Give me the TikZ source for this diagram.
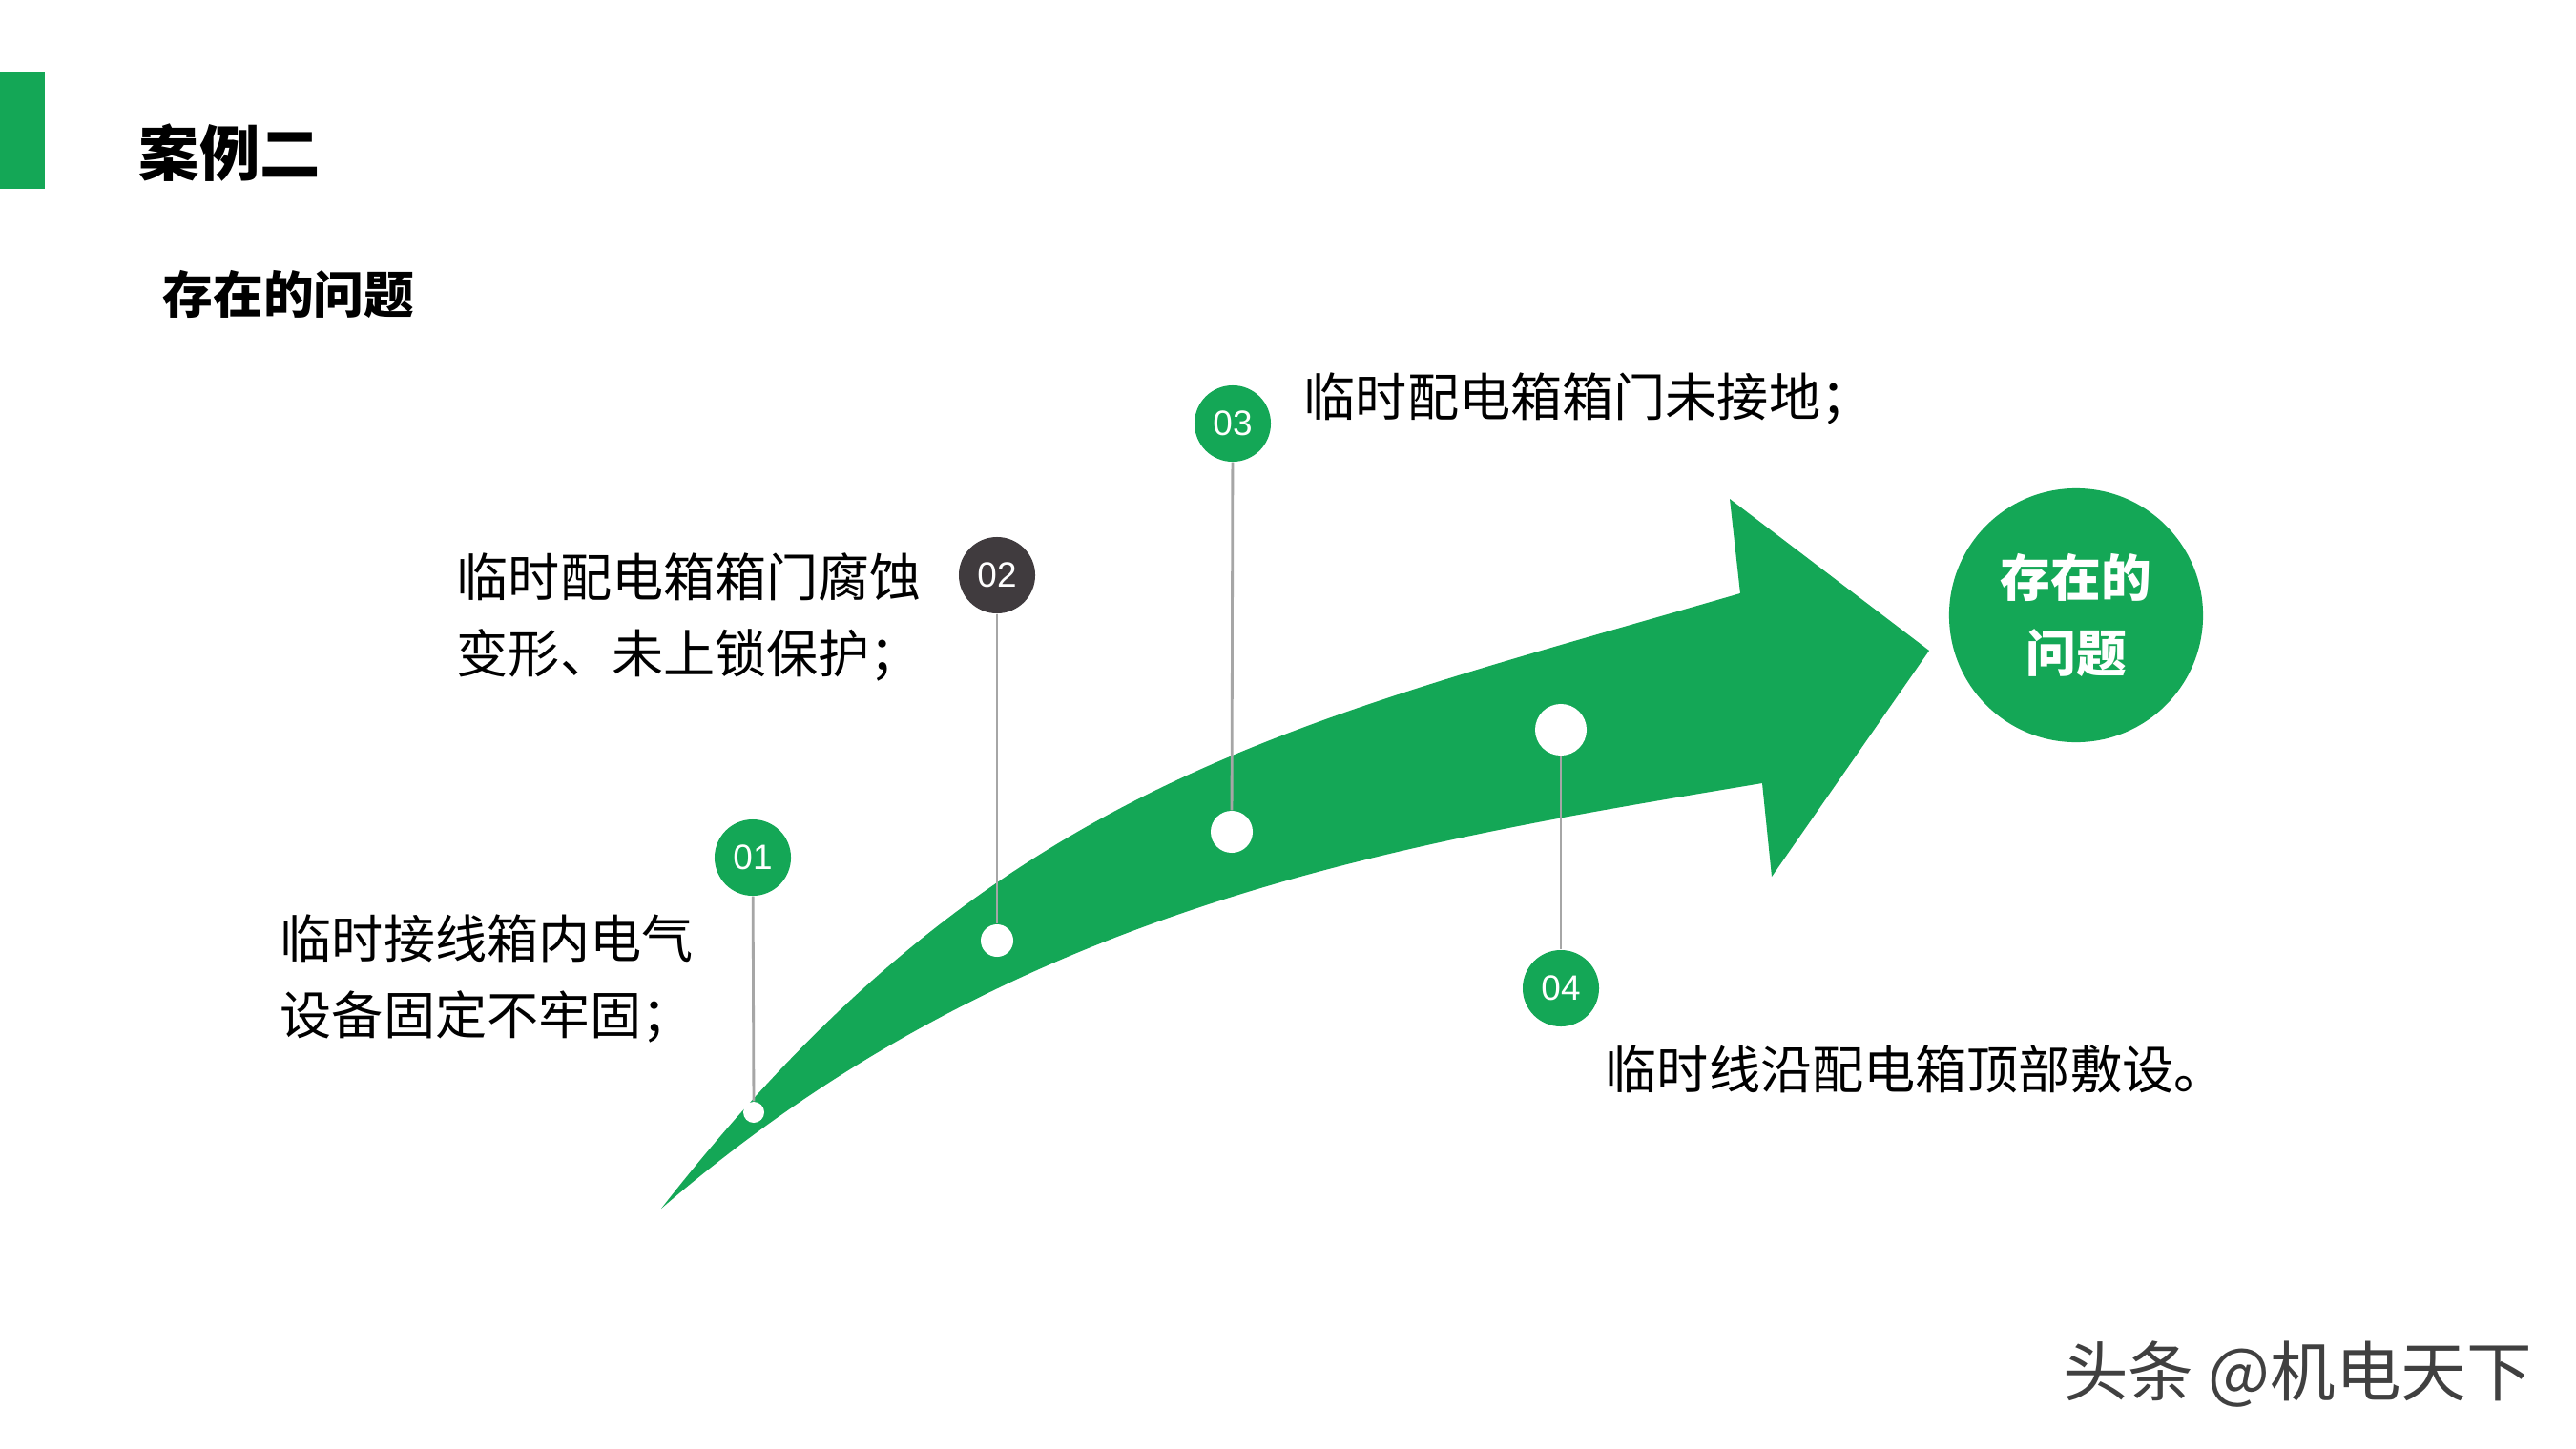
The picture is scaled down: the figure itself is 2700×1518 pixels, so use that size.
\documentclass[tikz,border=0pt]{standalone}
\usepackage{fontspec}
\newfontfamily\cjk{Noto Sans CJK SC}
\newfontfamily\numfont{Liberation Sans}
\definecolor{pgreen}{HTML}{14A756}
\definecolor{pdark}{HTML}{403B3E}
\definecolor{linegray}{HTML}{A6A6A6}
\begin{document}
\begin{tikzpicture}[x=0.01cm,y=-0.01cm,
  numc/.style={circle, fill=pgreen, minimum size=0.8cm, inner sep=0pt, text=white,
    font=\numfont\fontsize{10.5pt}{12pt}\selectfont},
  dotc/.style={circle, fill=white, inner sep=0pt},
  lbl/.style={anchor=west, inner sep=0pt, align=left,
    font=\cjk\fontsize{15.4pt}{22.8pt}\selectfont},
  link/.style={draw=linegray, line width=0.8pt}]
\fill[white] (0,0) rectangle (2700,1518);
\useasboundingbox (0,0) rectangle (2700,1518);
% header
\fill[pgreen] (0,76) rectangle (47,198);
\node[anchor=west, inner sep=0pt, font=\cjk\bfseries\fontsize{18pt}{20pt}\selectfont] (title) at (145,160) {案例二};
\node[anchor=west, inner sep=0pt, font=\cjk\bfseries\fontsize{15pt}{18pt}\selectfont] (sub) at (170,308) {存在的问题};
% arrow
\fill[pgreen] (693,1267) .. controls (1042,821) and (1342,762) .. (1824,622)
  -- (1813,523) -- (2022,682) -- (1857,919) -- (1847,821)
  .. controls (1469,884) and (1062,948) .. (693,1267) -- cycle;
% big circle
\node[circle, fill=pgreen, minimum size=2.66cm, inner sep=0pt, text=white, align=center,
  font=\cjk\bfseries\fontsize{15pt}{22.5pt}\selectfont] (big) at (2176,645) {存在的\\问题};
% markers
\node[numc] (c1) at (789,899) {01};
\node[dotc, minimum size=0.22cm] (d1) at (790,1166) {};
\node[numc, fill=pdark] (c2) at (1045,603) {02};
\node[dotc, minimum size=0.34cm] (d2) at (1045,986) {};
\node[numc] (c3) at (1292,444) {03};
\node[dotc, minimum size=0.44cm] (d3) at (1291,872) {};
\node[numc] (c4) at (1636,1036) {04};
\node[dotc, minimum size=0.54cm] (d4) at (1636,765) {};
\draw[link] (c1) -- (d1);
\draw[link] (c2) -- (d2);
\draw[link] (c3) -- (d3);
\draw[link] (d4) -- (c4);
% labels
\node[lbl] (t1) at (293,1026) {临时接线箱内电气\\设备固定不牢固；};
\node[lbl] (t2) at (478,647) {临时配电箱箱门腐蚀\\变形、未上锁保护；};
\node[lbl] (t3) at (1366,418) {临时配电箱箱门未接地；};
\node[lbl] (t4) at (1682,1121) {临时线沿配电箱顶部敷设。};
% watermark
\node[inner sep=0pt, text=black!75, font=\cjk\fontsize{19.5pt}{22pt}\selectfont] (wm) at (2408,1441) {头条 @机电天下};
\end{tikzpicture}
\end{document}
